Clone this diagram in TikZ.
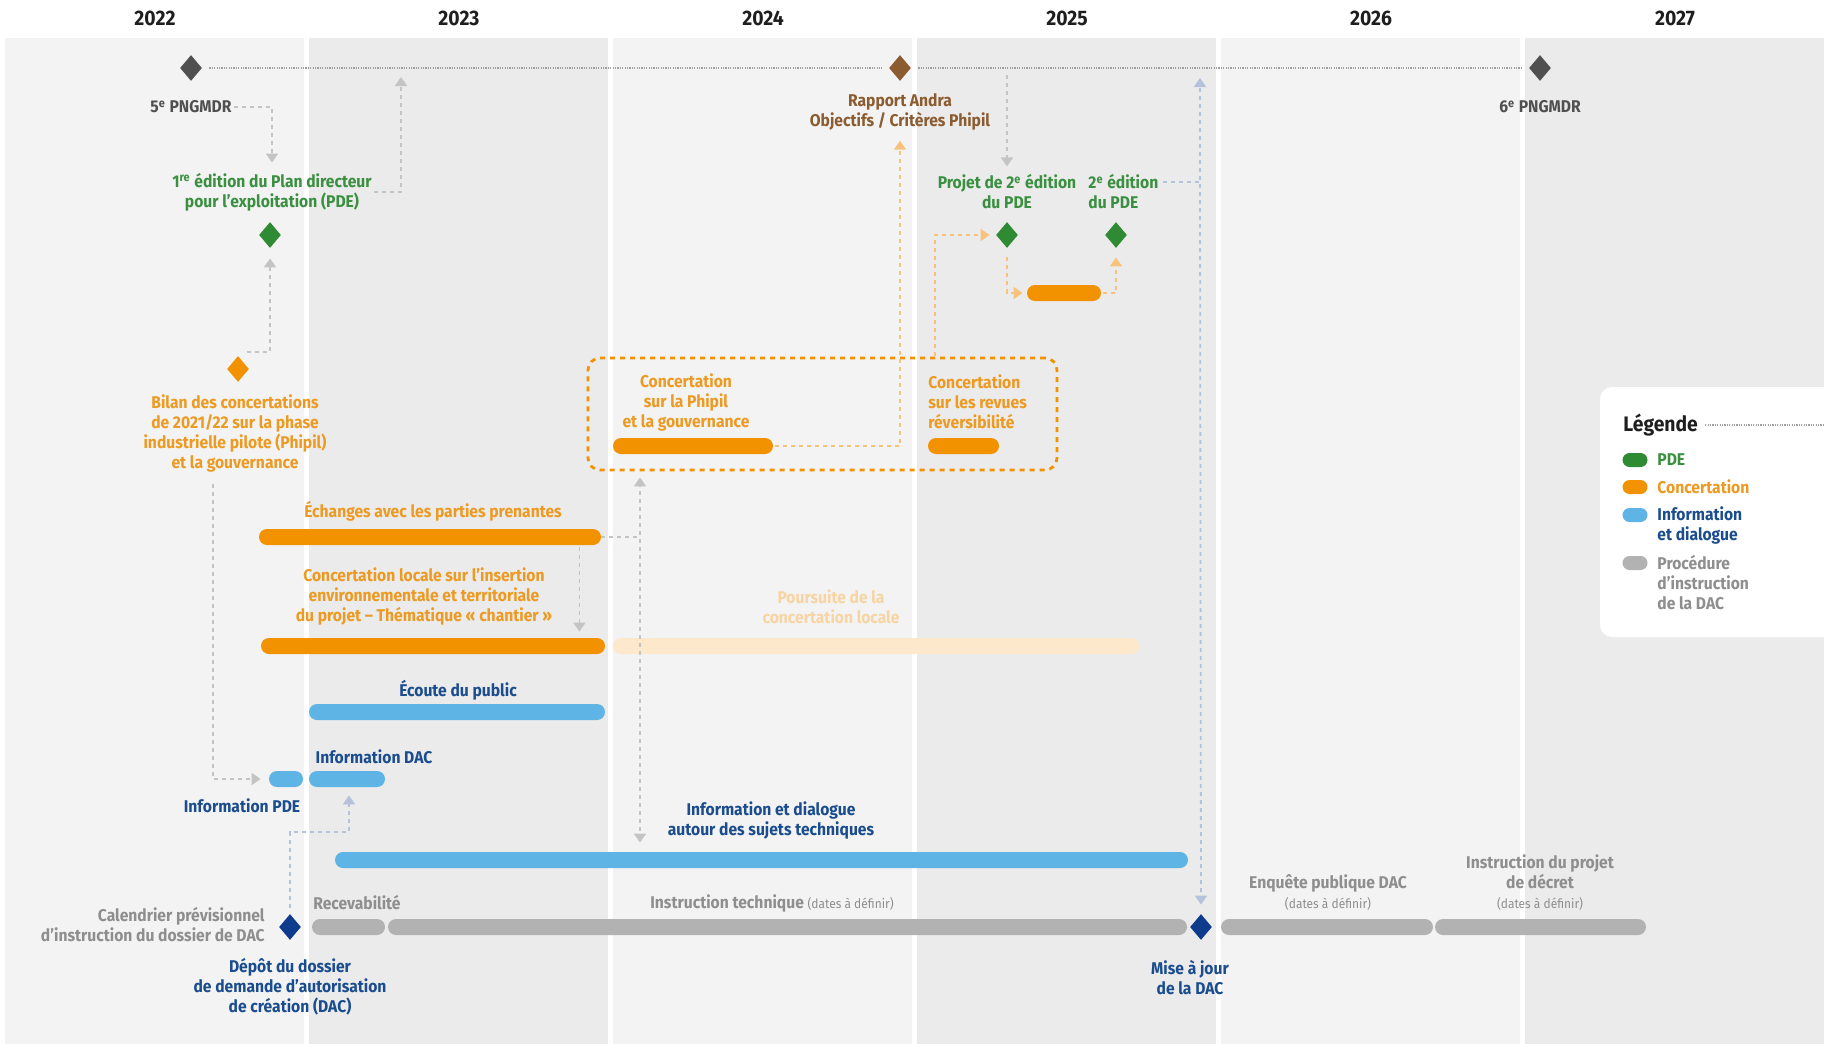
\documentclass[tikz,border=0pt]{standalone}
\usepackage{fontspec}
\setmainfont{Fira Sans}[FakeStretch=0.92]
\usetikzlibrary{arrows.meta,calc,shapes.geometric}
\definecolor{fondclair}{HTML}{F3F3F3}
\definecolor{fondfonce}{HTML}{EBEBEB}
\definecolor{noir}{HTML}{1E1E1E}
\definecolor{vertpde}{HTML}{2E8B34}
\definecolor{vertxt}{HTML}{3A9040}
\definecolor{orconc}{HTML}{F39200}
\definecolor{ortxt}{HTML}{EC9A22}
\definecolor{orclair}{HTML}{FDE8CC}
\definecolor{orclairtxt}{HTML}{F8D4A2}
\definecolor{bleuinfo}{HTML}{5EB4E4}
\definecolor{bleufonce}{HTML}{0E3B8C}
\definecolor{bleutxt}{HTML}{1A4C8E}
\definecolor{grisdac}{HTML}{B2B2B2}
\definecolor{gristxt}{HTML}{8E8E8E}
\definecolor{grisfonce}{HTML}{505050}
\definecolor{brun}{HTML}{8B5C30}
\definecolor{grispt}{HTML}{A0A0A0}
\definecolor{grisfl}{HTML}{C4C4C4}
\definecolor{orfl}{HTML}{F7C37C}
\definecolor{bleufl}{HTML}{B4C3DB}
\tikzset{
>={Triangle[width=6pt,length=4.5pt]},
losange/.style={diamond,inner sep=0pt,minimum width=11pt,minimum height=13pt,fill=#1},
barre/.style={rectangle,rounded corners=4pt,inner sep=0pt,minimum height=8pt,fill=#1},
icone/.style={rectangle,rounded corners=3.5pt,inner sep=0pt,minimum width=12.5pt,minimum height=7pt,fill=#1},
etiq/.style={font=\bfseries\fontsize{8.5}{10}\selectfont,align=center,inner sep=0pt,text=#1},
annee/.style={font=\bfseries\fontsize{10.5}{12}\selectfont,inner sep=0pt,text=noir},
fleche/.style={->,draw=#1,line width=0.9pt,dash pattern=on 2pt off 2pt,shorten >=4pt,shorten <=1pt},
tiret/.style={draw=#1,line width=0.9pt,dash pattern=on 2pt off 2pt},
pointille/.style={draw=grispt,line width=0.6pt,dash pattern=on 0.6pt off 0.6pt,shorten >=3.5pt,shorten <=3.5pt}}
\newcommand{\adefinir}{{\mdseries\fontsize{6.5}{8}\selectfont(dates à définir)}}

\begin{document}
\begin{tikzpicture}[x=0.5pt,y=-0.5pt]
\useasboundingbox (0,0) rectangle (1825,1044);

% colonnes des annees
\foreach \x in {5,613,1221} \fill[fondclair] (\x,38) rectangle (\x+299,1044);
\foreach \x in {309,917,1525} \fill[fondfonce] (\x,38) rectangle (\x+299,1044);
\foreach \a/\x in {2022/155,2023/459,2024/763,2025/1067,2026/1371,2027/1675}
  \node[annee] (an\a) at (\x,18) {\a};

% jalons du haut
\node[losange=grisfonce] (png5) at (191,68) {};
\node[losange=brun] (rapport) at (900,68) {};
\node[losange=grisfonce] (png6) at (1540,68) {};
\draw[pointille] (png5) -- (rapport);
\draw[pointille] (rapport) -- (png6);
\node[etiq=grisfonce] (l5) at (191,107) {5\textsuperscript{e} PNGMDR};
\node[etiq=grisfonce] (l6) at (1540,107) {6\textsuperscript{e} PNGMDR};
\node[etiq=brun] (lrap) at (900,112) {Rapport Andra\\Objectifs / Critères Phipil};
\coordinate (t1) at (401,68);
\coordinate (t2) at (1007,68);
\coordinate (t3) at (1200,68);

% PDE
\node[etiq=vertxt] (ed1) at (272,192) {1\textsuperscript{re} édition du Plan directeur\\pour l’exploitation (PDE)};
\node[losange=vertpde] (d1) at (270,235) {};
\node[etiq=vertxt] (proj) at (1007,192) {Projet de 2\textsuperscript{e} édition\\du PDE};
\node[etiq=vertxt,align=left,anchor=west] (ed2) at (1088,192) {2\textsuperscript{e} édition\\du PDE};
\node[losange=vertpde] (d2) at (1007,235) {};
\node[losange=vertpde] (d3) at (1116,235) {};
\node[barre=orconc,minimum width=37pt] (pde2bar) at (1064,293) {};

% concertation
\node[losange=orconc] (bil) at (238,369) {};
\node[etiq=ortxt] (lbil) at (235,433) {Bilan des concertations\\de 2021/22 sur la phase\\industrielle pilote (Phipil)\\et la gouvernance};
\node[draw=orconc,line width=1.4pt,dash pattern=on 2.5pt off 2.5pt,rounded corners=6pt,
  minimum width=234.5pt,minimum height=56pt,inner sep=0pt] (boite) at (822.5,414) {};
\node[etiq=ortxt] (lphi) at (686,402) {Concertation\\sur la Phipil\\et la gouvernance};
\node[barre=orconc,minimum width=80pt] (phipil) at (693,446) {};
\node[etiq=ortxt,align=left,anchor=west] (lrev) at (928,402) {Concertation\\sur les revues\\réversibilité};
\node[barre=orconc,minimum width=35.5pt] (revues) at (963.5,446) {};
\node[etiq=ortxt] (lech) at (433,511) {Échanges avec les parties prenantes};
\node[barre=orconc,minimum width=171pt] (echanges) at (430,537) {};
\node[etiq=ortxt] (lloc) at (424,596) {Concertation locale sur l’insertion\\environnementale et territoriale\\du projet – Thématique « chantier »};
\node[barre=orconc,minimum width=172pt] (locale) at (433,646) {};
\node[etiq=orclairtxt] (lpou) at (831,607) {Poursuite de la\\concertation locale};
\node[barre=orclair,minimum width=263pt] (poursuite) at (876,646) {};

% information et dialogue
\node[etiq=bleutxt] (lecou) at (458,690) {Écoute du public};
\node[barre=bleuinfo,minimum width=148pt] (ecoute) at (457,712) {};
\node[etiq=bleutxt] (linfdac) at (374,757) {Information DAC};
\node[barre=bleuinfo,minimum width=17pt] (infopde) at (286,779) {};
\node[barre=bleuinfo,minimum width=38pt] (infodac) at (347,779) {};
\node[etiq=bleutxt] (linfpde) at (242,806) {Information PDE};
\node[etiq=bleutxt] (ldial) at (771,820) {Information et dialogue\\autour des sujets techniques};
\node[barre=bleuinfo,minimum width=426.5pt] (infodial) at (761.5,860) {};

% procedure DAC
\node[etiq=gristxt,align=right,anchor=east] (lcal) at (265,925) {Calendrier prévisionnel\\d’instruction du dossier de DAC};
\node[losange=bleufonce] (depot) at (290,927) {};
\node[etiq=bleutxt] (ldep) at (290,987) {Dépôt du dossier\\de demande d’autorisation\\de création (DAC)};
\node[etiq=gristxt] (lrec) at (357,903) {Recevabilité};
\node[barre=grisdac,minimum width=36.5pt] (recev) at (348.5,927) {};
\node[etiq=gristxt] (linstr) at (772,903) {Instruction technique \adefinir};
\node[barre=grisdac,minimum width=399.5pt] (instrtech) at (787.5,927) {};
\node[losange=bleufonce] (maj) at (1201,927) {};
\node[etiq=bleutxt] (lmaj) at (1190,978) {Mise à jour\\de la DAC};
\node[etiq=gristxt] (lenq) at (1328,892) {Enquête publique DAC\\\adefinir};
\node[barre=grisdac,minimum width=106pt] (enquete) at (1327,927) {};
\node[etiq=gristxt] (ldec) at (1540,883) {Instruction du projet\\de décret\\\adefinir};
\node[barre=grisdac,minimum width=105.5pt] (decret) at (1540.5,927) {};

% liaisons
\coordinate (c3) at (245,352);
\coordinate (c4) at (213,482);
\coordinate (c5) at (349,832);
\coordinate (c7) at (935,358);
\coordinate (c11) at (1200,182);
\coordinate (c12) at (640,537);
\draw[fleche=grisfl,shorten >=5pt] (l5.east) -| (ed1.north);
\draw[fleche=grisfl,shorten >=4.5pt] (ed1.east) -| (t1);
\draw[fleche=grisfl,shorten >=5pt] (c3) -| (d1.south);
\draw[fleche=grisfl] (c4) |- (infopde.west);
\draw[fleche=bleufl,shorten <=3pt] (depot.north) |- (c5) -- (c5 |- infodac.south);
\draw[fleche=orfl,shorten >=5pt] (phipil.east) -| (lrap.south);
\draw[fleche=orfl,shorten >=3pt] (c7) |- (d2.west);
\draw[fleche=orfl,shorten <=4.5pt,shorten >=2pt] (d2.south) |- (pde2bar.west);
\draw[fleche=orfl,shorten >=4.5pt] (pde2bar.east) -| (d3.south);
\draw[fleche=grisfl,shorten <=3.5pt] (t2) -- (proj.north);
\draw[tiret=bleufl,shorten <=2pt] (ed2.east |- c11) -- (c11);
\draw[fleche=bleufl,shorten >=5pt] (c11) -- (t3);
\draw[fleche=bleufl,shorten >=4.5pt] (c11) -- (maj.north);
\draw[tiret=grisfl] (echanges.east) -- (c12);
\draw[fleche=grisfl,shorten >=3pt] (c12) -- (c12 |- boite.south);
\draw[fleche=grisfl,shorten >=4.5pt] (c12) -- (c12 |- infodial.north);
\draw[fleche=grisfl,shorten >=3pt] ($(echanges.south east)+(-22,0)$) -- ($(locale.north east)+(-26,0)$);

% legende
\node[fill=white,rounded corners=6pt,minimum width=120pt,minimum height=125pt,inner sep=0pt] (legende) at (1720,512) {};
\node[annee,anchor=west] (tleg) at (1623,425) {Légende};
\coordinate (fin) at (1830,427);
\draw[pointille,shorten >=0pt] (tleg.east) -- (tleg.east -| fin);
\node[icone=vertpde] (ic1) at (1635,460) {};
\node[etiq=vertxt,anchor=west] (tx1) at (1657,460) {PDE};
\node[icone=orconc] (ic2) at (1635,487) {};
\node[etiq=ortxt,anchor=west] (tx2) at (1657,487) {Concertation};
\node[icone=bleuinfo] (ic3) at (1635,515) {};
\node[etiq=bleutxt,align=left,anchor=west] (tx3) at (1657,525) {Information\\et dialogue};
\node[icone=grisdac] (ic4) at (1635,563) {};
\node[etiq=gristxt,align=left,anchor=west] (tx4) at (1657,583) {Procédure\\d’instruction\\de la DAC};

\end{tikzpicture}
\end{document}
